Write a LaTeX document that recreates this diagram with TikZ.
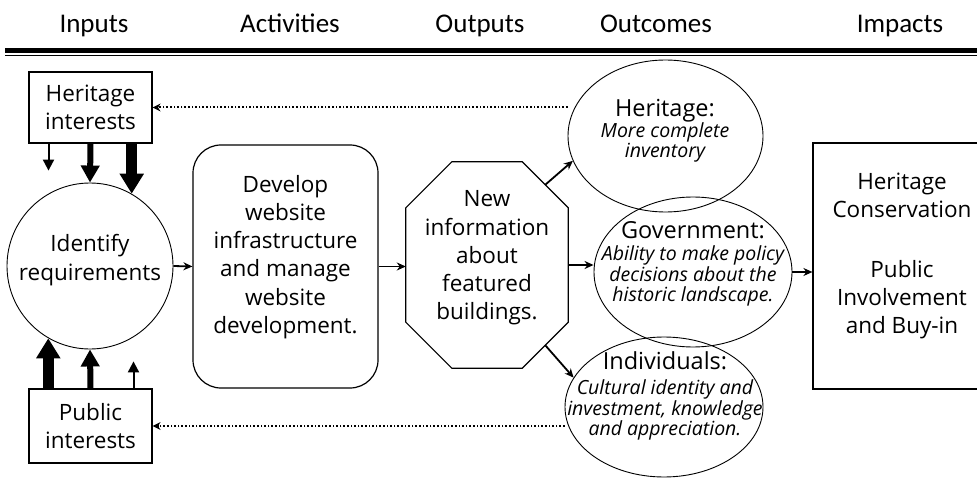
\documentclass[tikz,border=0pt]{standalone}
\usepackage{fontspec}
\setmainfont{Open Sans}
\newfontfamily\headfont{Carlito}
\usetikzlibrary{arrows.meta,shapes.geometric}

\newcommand\headtxt{\fontsize{23.5}{20}\selectfont\upshape}

\begin{document}
\begin{tikzpicture}[x=1pt,y=-1pt,
    every node/.style={inner sep=0pt, align=center, font=\fontsize{22.5}{28.3}\selectfont},
    head/.style={font=\headfont\fontsize{27}{30}\selectfont, anchor=base},
    box/.style={draw, line width=1.2pt},
    oval/.style={draw, ellipse, line width=0.9pt},
    subtxt/.style={font=\fontsize{19.5}{20.5}\selectfont\itshape},
    link/.style={-{Stealth[length=9pt,width=8pt]}, line width=1.8pt},
    dots/.style={-{Stealth[length=8pt,width=8pt]}, line width=2pt, dash pattern=on 1.6pt off 2pt},
    fatarrow/.style={-{Triangle[length=20pt,width=23pt]}, line width=11pt},
    midarrow/.style={-{Triangle[length=17pt,width=18pt]}, line width=6pt},
    slimarrow/.style={-{Triangle[length=11pt,width=11pt]}, line width=2pt}]
    \clip (0,0) rectangle (977,481);
    % column titles
    \node[head] (hin) at (94,33) {Inputs};
    \node[head] (hact) at (290,33) {Activities};
    \node[head] (hout) at (480,33) {Outputs};
    \node[head] (hoc) at (656,33) {Outcomes};
    \node[head] (himp) at (900,33) {Impacts};
    \draw[line width=5pt] (5,50.5) -- (977,50.5);
    \draw[line width=1.2pt] (5,55.5) -- (977,55.5);

    % inputs
    \node[box, minimum width=123pt, minimum height=71pt] (hi) at (90.5,107.5) {Heritage\\interests};
    \node[box, minimum width=123pt, minimum height=74pt] (pi) at (90.5,426) {Public\\interests};
    \node[draw, circle, line width=0.9pt, minimum size=166pt] (idr) at (90,266) {};
    \node (idr-t) at (90,260) {Identify\\requirements};
    \draw[slimarrow] ([xshift=-42pt]hi.south) -- ++(0,27);
    \draw[midarrow] (hi.south) -- (idr.north);
    \draw[fatarrow] (hi.south -| idr.60) -- (idr.60);
    \draw[fatarrow] (pi.north -| idr.240) -- (idr.240);
    \draw[midarrow] (pi.north) -- (idr.south);
    \draw[slimarrow] ([xshift=43pt]pi.north) -- ++(0,-27);

    % activities, outputs
    \node[box, rounded corners=28pt, minimum width=185pt, minimum height=243pt] (dev) at (285.5,266.5) {};
    \node (dev-t) at (285.5,257) {Develop\\website\\infrastructure\\and manage\\website\\development.};
    \node[minimum width=162pt, minimum height=206pt] (oct) at (487,265) {};
    \draw[box] ([xshift=46pt]oct.north west) -- ([xshift=-46pt]oct.north east)
        -- ([yshift=-46pt]oct.north east) -- ([yshift=46pt]oct.south east)
        -- ([xshift=-46pt]oct.south east) -- ([xshift=46pt]oct.south west)
        -- ([yshift=46pt]oct.south west) -- ([yshift=-46pt]oct.north west) -- cycle;
    \node (oct-t) at (487,258) {New\\information\\about\\featured\\buildings.};
    \draw[link] (idr.east) -- (dev.west);
    \draw[link] (dev.east) -- (dev.east -| oct.west);

    % outcomes
    \node[oval, minimum width=195pt, minimum height=152pt] (her) at (665.5,136) {};
    \node[subtxt] (her-t) at (665,131) {{\headtxt Heritage:}\\[0pt]More complete\\inventory};
    \node[oval, minimum width=198pt, minimum height=150pt] (gov) at (693,272) {};
    \node[subtxt] (gov-t) at (693,264) {{\headtxt Government:}\\[2pt]Ability to make policy\\decisions about the\\historic landscape.};
    \node[oval, minimum width=198pt, minimum height=140pt] (ind) at (664,407) {};
    \node[subtxt] (ind-t) at (665,396) {{\headtxt Individuals:}\\[5pt]Cultural identity and\\investment, knowledge\\and appreciation.};
    \draw[link] ([xshift=-23pt,yshift=-23pt]oct.north east) -- (her.195);
    \draw[link] (oct.east) -- (oct.east -| gov.west);
    \draw[link] ([xshift=-23pt,yshift=23pt]oct.south east) -- (ind.162);
    \draw[dots] (her.west |- hi.east) -- (hi.east);
    \draw[dots] (ind.west |- pi.east) -- (pi.east);

    % impacts
    \node[box, minimum width=178pt, minimum height=246pt] (imp) at (902,266) {};
    \node (imp-t) at (902,256) {Heritage\\Conservation\\[31pt]Public\\Involvement\\and Buy-in};
    \draw[link] (gov.east) -- (gov.east -| imp.west);
\end{tikzpicture}
\end{document}
